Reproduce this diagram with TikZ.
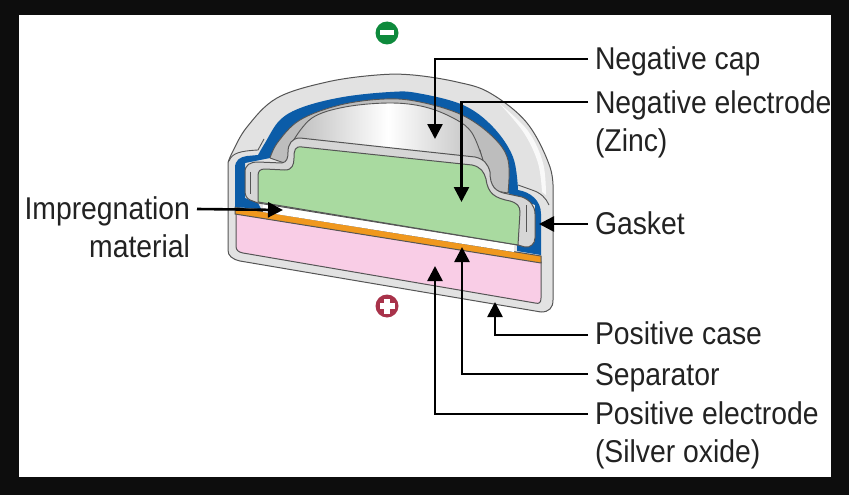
\documentclass[tikz,border=0pt]{standalone}
\usepackage{fontspec}
\setmainfont[FakeStretch=0.9]{Liberation Sans}
\usetikzlibrary{arrows.meta}
\definecolor{bgk}{HTML}{0D0D0D}
\definecolor{blueL}{HTML}{0B5CA8}
\definecolor{greenL}{HTML}{A9DAA0}
\definecolor{pinkL}{HTML}{F9CDE6}
\definecolor{orangeL}{HTML}{F0981E}
\definecolor{caseL}{HTML}{E2E2E2}
\definecolor{midL}{HTML}{BDBDBD}
\definecolor{bandL}{HTML}{D6D6D6}
\definecolor{lineL}{HTML}{555555}
\definecolor{txt}{HTML}{222222}
\definecolor{minusG}{HTML}{0E8A3C}
\definecolor{plusR}{HTML}{A8324A}
\tikzset{
  lbl/.style={font=\fontsize{31.5}{38.5}\selectfont,text=txt,inner sep=0pt,outer xsep=7pt},
  conn/.style={draw=black,line width=2.6pt,-{Triangle[length=15pt,width=15pt]}},
  part/.style={draw=lineL,line width=1pt,line join=round},
  thinline/.style={draw=lineL,line width=.9pt,line join=round},
}
\begin{document}
\begin{tikzpicture}[x=1pt,y=-1pt]
\useasboundingbox (0,0) rectangle (849,495);
\fill[bgk] (0,0) rectangle (849,495);
\fill[white] (19,15) rectangle (831,477);
% outer case
\draw[part,fill=caseL] (228,250) -- (228,163)
  -- plot[smooth,tension=.6] coordinates {(228,163) (232,153) (247,127) (277,98) (327,82) (377,75) (413,75) (457,82) (490,93) (527,123) (550,167) (553,197)}
  -- (553,300) .. controls (553,308) and (549,312) .. (541,312)
  -- (240,261) .. controls (232,259) and (228,256) .. (228,250) -- cycle;
% white highlight on dome
\fill[white,opacity=.8] plot[smooth,tension=.6] coordinates {(500,104) (528,131) (543,163) (546,195)}
  -- plot[smooth,tension=.6] coordinates {(542,192) (538,163) (524,133) (500,104)} -- cycle;
% pink
\draw[part,fill=pinkL] (236,213) -- (541,262) -- (541,298) .. controls (541,303) and (539,304) .. (535,303)
  -- (243,253) .. controls (238,252) and (236,250) .. (236,246) -- cycle;
% orange
\draw[part,fill=orangeL] (235,207) -- (541,256) -- (541,263) -- (235,214) -- cycle;
% white separator
\fill[white] (263,204) -- (514,244) -- (514,252) -- (263,212) -- cycle;
% blue
\fill[blueL] (235,207) -- (235,168) .. controls (235,160) and (240,157) .. (247,156)
  -- (258,155)
  -- plot[smooth,tension=.6] coordinates {(258,155) (265,143) (280,120) (303,107) (343,97) (390,92) (417,93) (463,105) (493,127) (513,157) (518,190)}
  .. controls (530,192) and (541,200) .. (541,214)
  -- (541,255) -- (517,251) -- (517,240) -- (535,242) -- (535,205) -- (508,193)
  -- plot[smooth,tension=.6] coordinates {(508,193) (508,160) (493,137) (462,115) (420,102) (385,99) (340,105) (300,120) (278,142) (270,158)}
  -- (245,163) -- (245,198) -- (258,203) -- (261,209) -- cycle;
% mid-gray inner
\draw[thinline,fill=midL] plot[smooth,tension=.6] coordinates {(270,158) (278,142) (300,120) (340,105) (385,99) (420,102) (462,115) (493,137) (508,160) (508,193)}
  -- (490,190) -- (480,150) -- (297,140) -- (290,165) -- cycle;
% dome with shading
\draw[thinline,left color=midL,right color=midL,middle color=white]
  plot[smooth,tension=.6] coordinates {(293,141) (312,118) (345,107) (390,103) (425,107) (455,119) (472,133) (483,160)} -- (380,148) -- cycle;
% band around green
\draw[part,fill=bandL] (245,172) .. controls (245,165) and (250,162) .. (258,162)
  -- (282,163) .. controls (287,162) and (288,158) .. (288,152)
  .. controls (288,144) and (292,138) .. (300,138)
  -- (475,157) .. controls (484,159) and (488,164) .. (490,172)
  .. controls (490,186) and (495,192) .. (508,194)
  -- (522,197) .. controls (530,200) and (535,206) .. (535,214)
  -- (535,238) .. controls (535,244) and (530,248) .. (525,247)
  -- (518,245) -- (258,203) -- (250,200) .. controls (246,198) and (245,195) .. (245,190) -- cycle;
% green
\draw[part,fill=greenL] (258,202) -- (258,176) .. controls (258,171) and (260,169) .. (265,169)
  -- (285,170) .. controls (292,170) and (294,165) .. (294,158)
  .. controls (294,150) and (295,146) .. (302,147)
  -- (472,165) .. controls (481,167) and (484,172) .. (486,179)
  .. controls (488,194) and (495,198) .. (510,201)
  .. controls (517,203) and (520,206) .. (520,212)
  -- (518,245) -- cycle;
% fold marks and rim lines
\draw[thinline] (250,172) -- (250,194);
\draw[thinline] (526,205) -- (526,232);
\draw[thinline] (229,161) .. controls (232,153) and (240,151) .. (258,150) -- (264,139);
\draw[thinline] (518,185) -- (532,190) .. controls (541,193) and (546,198) .. (549,205);
% polarity marks
\node[circle,fill=minusG,minimum size=23pt,inner sep=0pt] (minus) at (387,33) {};
\node[fill=white,minimum width=14pt,minimum height=5pt,inner sep=0pt] (minusbar) at (minus.center) {};
\node[circle,fill=plusR,minimum size=23pt,inner sep=0pt] (plus) at (387,306) {};
\node[fill=white,minimum width=15pt,minimum height=6pt,inner sep=0pt] (plusbarh) at (plus.center) {};
\node[fill=white,minimum width=6pt,minimum height=15pt,inner sep=0pt] (plusbarv) at (plus.center) {};
% labels
\node[lbl,anchor=base west] (ncap) at (588,70) {Negative cap};
\node[lbl,anchor=north west,align=left] (nel) at (588,90) {Negative electrode\\(Zinc)};
\node[lbl,anchor=base west] (gas) at (588,234) {Gasket};
\node[lbl,anchor=base west] (pcase) at (588,344) {Positive case};
\node[lbl,anchor=base west] (sep) at (588,385) {Separator};
\node[lbl,anchor=north west,align=left] (pel) at (588,401) {Positive electrode\\(Silver oxide)};
\node[lbl,anchor=north east,align=right] (imp) at (197,196) {Impregnation\\material};
% targets
\coordinate (tcap) at (435,139);
\coordinate (tnel) at (461.5,202);
\coordinate (tgas) at (539,224);
\coordinate (tpcase) at (495,302);
\coordinate (tsep) at (462,247);
\coordinate (tpel) at (435,266);
\coordinate (timp) at (283,210);
% connectors
\draw[conn] (ncap.west |- 0,59) -| (tcap);
\draw[conn] (nel.north west |- 0,102) -| (tnel);
\draw[conn] (gas.west |- 0,224) -- (tgas);
\draw[conn] (pcase.west |- 0,335) -| (tpcase);
\draw[conn] (sep.west |- 0,374) -| (tsep);
\draw[conn] (pel.north west |- 0,414) -| (tpel);
\draw[conn] (imp.north east |- 0,209) -- (timp);
\end{tikzpicture}
\end{document}
